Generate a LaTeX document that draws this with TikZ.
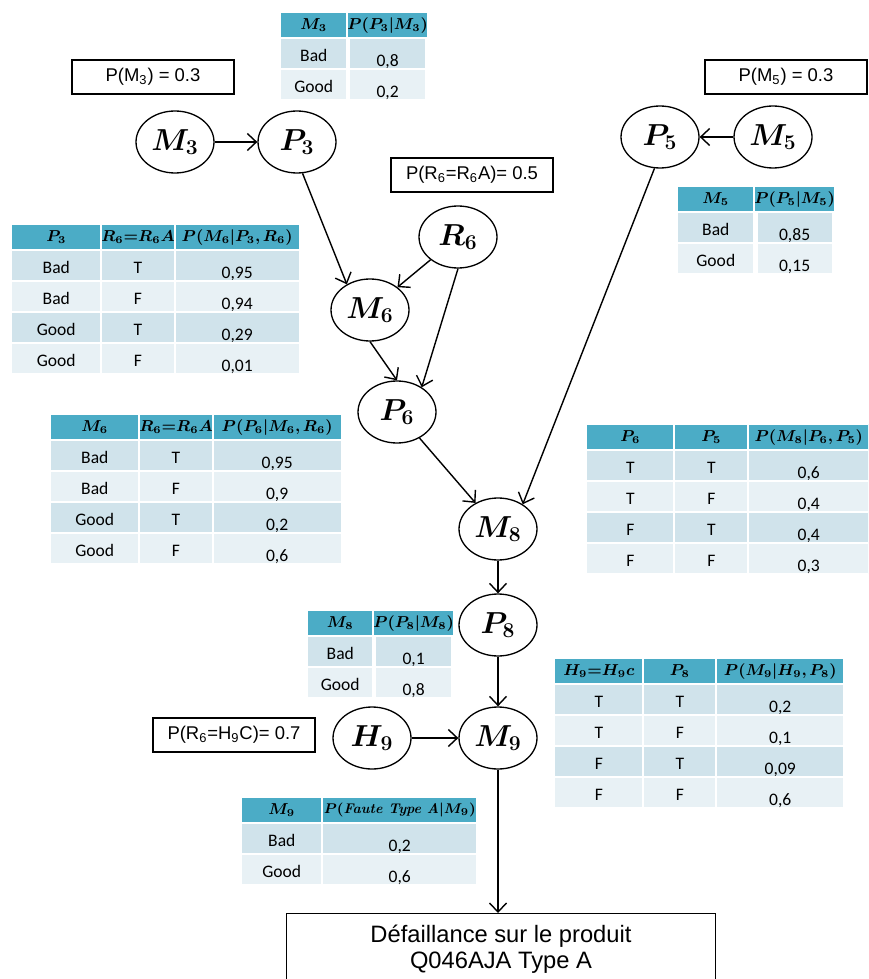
\documentclass[tikz,border=0pt]{standalone}
\usepackage{amsmath,bm}
\usepackage[no-math]{fontspec}
\newfontfamily\boxfont{Liberation Sans}
\newfontfamily\cellfont{Carlito}
\usetikzlibrary{arrows.meta,matrix,shapes.geometric}
\definecolor{chead}{HTML}{4BACC6}
\definecolor{cbanda}{HTML}{D0E3EB}
\definecolor{cbandb}{HTML}{E8F1F5}

\begin{document}
\begin{tikzpicture}[
  x=0.02cm,y=-0.02cm,>={Straight Barb[length=1.8mm,width=3.4mm]},
  var/.style={ellipse,draw,line width=0.75pt,minimum width=15.6mm,minimum height=12.4mm,inner sep=0pt,font=\fontsize{17}{20}\selectfont},
  prior/.style={rectangle,draw,line width=0.75pt,minimum width=32.4mm,minimum height=6.8mm,inner sep=0pt,font=\boxfont\fontsize{10.5}{12}\selectfont},
  edge/.style={->,line width=0.8pt},
  cpt/.style={matrix of nodes,inner sep=0pt,column sep=-1.1pt,row sep=-1.1pt,anchor=north west,
    nodes={anchor=center,draw=white,line width=1.1pt,inner sep=0pt,minimum height=6.2mm,text height=8.3pt,text depth=0pt,font=\cellfont\fontsize{10}{12}\selectfont},
    row 1/.style={nodes={fill=chead,minimum height=5.2mm,text height=,text depth=,font=\fontsize{9}{10}\selectfont}},
    row 2/.style={nodes={fill=cbanda}},row 3/.style={nodes={fill=cbandb}},
    row 4/.style={nodes={fill=cbanda}},row 5/.style={nodes={fill=cbandb}}},
  cpttwo/.style 2 args={cpt,column 1/.style={nodes={minimum width=#1}},column 2/.style={nodes={minimum width=#2,text height=14.5pt}}},
  cptthree/.style n args={3}{cpt,column 1/.style={nodes={minimum width=#1}},column 2/.style={nodes={minimum width=#2}},column 3/.style={nodes={minimum width=#3,text height=14.5pt}}}
]
  \useasboundingbox (0,0) rectangle (868,979);
  \clip (0,0) rectangle (868,979);

  % Variables
  \node[var] (M3) at (175,142) {$\bm{M_3}$};
  \node[var] (P3) at (297,142) {$\bm{P_3}$};
  \node[var] (P5) at (660,137) {$\bm{P_5}$};
  \node[var] (M5) at (773,137) {$\bm{M_5}$};
  \node[var] (R6) at (458,237) {$\bm{R_6}$};
  \node[var] (M6) at (370,310) {$\bm{M_6}$};
  \node[var] (P6) at (397,412) {$\bm{P_6}$};
  \node[var] (M8) at (498,529) {$\bm{M_8}$};
  \node[var] (P8) at (498,625) {$\bm{P_8}$};
  \node[var] (H9) at (372,738) {$\bm{H_9}$};
  \node[var] (M9) at (498,738) {$\bm{M_9}$};

  % Priors and failure box
  \node[prior] (pM3) at (153,77)  {P(M\textsubscript{3}) = 0.3};
  \node[prior] (pR6) at (472,175) {P(R\textsubscript{6}=R\textsubscript{6}A)= 0.5};
  \node[prior] (pM5) at (786,77)  {P(M\textsubscript{5}) = 0.3};
  \node[prior] (pH9) at (234,735) {P(R\textsubscript{6}=H\textsubscript{9}C)= 0.7};
  \node[prior,anchor=north,minimum width=85.8mm,inner ysep=6.4pt,align=center,font=\boxfont\fontsize{13.5}{14.7}\selectfont] (fault) at (501,913)
    {Défaillance sur le produit\\Q046AJA Type A};

  % Conditional tables
  \matrix (tM3) at (279,11) [cpttwo={13.4mm}{15.4mm}] {
    $\bm{M_3}$ & $\bm{P(P_3|M_3)}$ \\
    Bad & 0,8 \\
    Good & 0,2 \\
  };
  \matrix (tP3) at (10,223) [cptthree={18mm}{14.6mm}{25mm}] {
    $\bm{P_3}$ & $\bm{R_6{=}R_6A}$ & $\bm{P(M_6|P_3,R_6)}$ \\
    Bad & T & 0,95 \\
    Bad & F & 0,94 \\
    Good & T & 0,29 \\
    Good & F & 0,01 \\
  };
  \matrix (tM6) at (49,413) [cptthree={17.8mm}{14.6mm}{25.8mm}] {
    $\bm{M_6}$ & $\bm{R_6{=}R_6A}$ & $\bm{P(P_6|M_6,R_6)}$ \\
    Bad & T & 0,95 \\
    Bad & F & 0,9 \\
    Good & T & 0,2 \\
    Good & F & 0,6 \\
  };
  \matrix (tM5) at (676,185) [cpttwo={15.4mm}{15.2mm}] {
    $\bm{M_5}$ & $\bm{P(P_5|M_5)}$ \\
    Bad & 0,85 \\
    Good & 0,15 \\
  };
  \matrix (tP6) at (585,423) [cptthree={17.6mm}{14.8mm}{24.2mm}] {
    $\bm{P_6}$ & $\bm{P_5}$ & $\bm{P(M_8|P_6,P_5)}$ \\
    T & T & 0,6 \\
    T & F & 0,4 \\
    F & T & 0,4 \\
    F & F & 0,3 \\
  };
  \matrix (tM8) at (306,609) [cpttwo={13.2mm}{15.4mm}] {
    $\bm{M_8}$ & $\bm{P(P_8|M_8)}$ \\
    Bad & 0,1 \\
    Good & 0,8 \\
  };
  \matrix (tH9) at (553,657) [cptthree={17.8mm}{14.6mm}{25.6mm}] {
    $\bm{H_9{=}H_9c}$ & $\bm{P_8}$ & $\bm{P(M_9|H_9,P_8)}$ \\
    T & T & 0,2 \\
    T & F & 0,1 \\
    F & T & 0,09 \\
    F & F & 0,6 \\
  };
  \matrix (tM9) at (240,796) [cpttwo={16.2mm}{31mm}] {
    $\bm{M_9}$ & |[font=\fontsize{8}{9.5}\selectfont]| $\bm{P(}$\textbf{\textit{Faute Type A}}$\bm{|M_9)}$ \\
    Bad & 0,2 \\
    Good & 0,6 \\
  };

  % Arcs
  \draw[edge] (M3) -- (P3);
  \draw[edge] (M5) -- (P5);
  \draw[edge] (P3.-80) -- (M6.132);
  \draw[edge] (R6) -- (M6);
  \draw[edge] (R6.-90) -- (P6.45);
  \draw[edge] (M6.-90) -- (P6.90);
  \draw[edge] (P6) -- (M8);
  \draw[edge] (P5.-100) -- (M8.45);
  \draw[edge] (M8) -- (P8);
  \draw[edge] (P8) -- (M9);
  \draw[edge] (H9) -- (M9);
  \draw[edge] (M9) -- (M9 |- fault.north);
\end{tikzpicture}
\end{document}
